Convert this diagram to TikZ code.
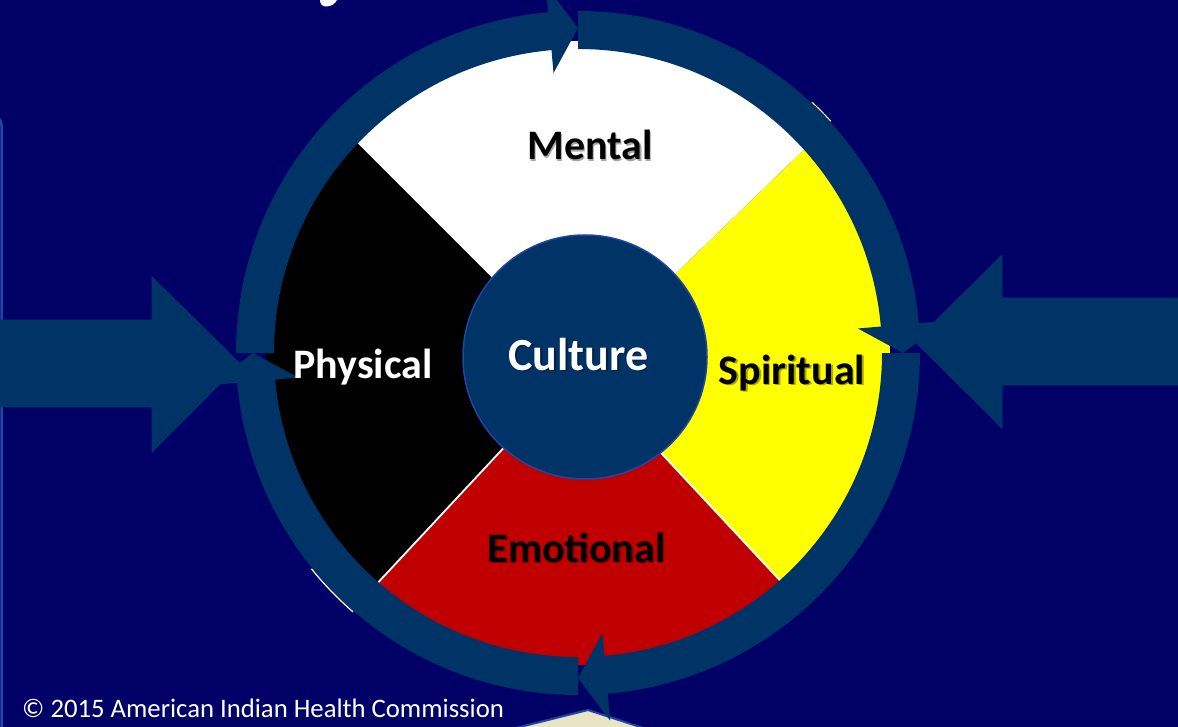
\documentclass[tikz,border=0pt]{standalone}
\usepackage{fontspec}
\setmainfont{Carlito}
\definecolor{navy}{RGB}{0,0,102}
\definecolor{ringblue}{RGB}{0,51,102}
\definecolor{edgeblue}{RGB}{30,70,165}
\definecolor{wheelred}{RGB}{192,0,0}
\definecolor{wheelyellow}{RGB}{255,255,0}
\definecolor{sand}{RGB}{233,229,196}

\begin{document}
\begin{tikzpicture}[x=1pt,y=1pt,
  lbl/.style={anchor=base, inner sep=0pt, font=\fontsize{42}{46}\selectfont\bfseries},
  bigtxt/.style={anchor=base, inner sep=0pt, font=\fontsize{46}{50}\selectfont\bfseries},
  shade/.style={text=black, opacity=0.35},
  bigarrow/.style={fill=ringblue, draw=ringblue!85!edgeblue, line width=0.8pt},
  divider/.style={white, line width=1.8pt}]
\useasboundingbox (0,0) rectangle (1178,-727);
\fill[navy] (0,0) rectangle (1178,-727);

% edge of the neighbouring panel on the left
\draw[edgeblue, line width=2.5pt, rounded corners=10pt] (-40,-115) -- (1.5,-115) -- (1.5,-745);

% small white hook hanging down from the top edge
\fill[white] (320,0) -- (337,0) .. controls (335,-4) and (331,-6.5) .. (326,-6.5)
  .. controls (322.5,-6.5) and (320,-4) .. (320,0) -- cycle;

% sand shape below the wheel
\fill[sand, draw=edgeblue, line width=2pt] (468,-740) -- (588,-710) -- (680,-740) -- cycle;

% the four quadrants of the wheel
\begin{scope}
  \clip (578,-353) circle[radius=312];
  \begin{scope}[shift={(580,-366)}]
    \fill[white] (0,0) -- (135:700) -- (44:700) -- cycle;
    \fill[wheelyellow] (0,0) -- (44:700) -- (-47:700) -- cycle;
    \fill[wheelred] (0,0) -- (-47:700) -- (-133:700) -- cycle;
    \fill[black] (0,0) -- (-133:700) -- (135:700) -- cycle;
    \draw[divider] (0,0) -- (-47:700);
    \draw[divider] (0,0) -- (-133:700);
  \end{scope}
\end{scope}

% centre circle
\node[circle, fill=ringblue, draw=edgeblue, line width=1.5pt, minimum size=244pt, inner sep=0pt] (culture) at (585,-357) {};

% incoming arrows
\fill[bigarrow] (-5,-320) -- (152,-320) -- (152,-277) -- (240,-363.5) -- (152,-452) -- (152,-407) -- (-5,-407) -- cycle;
\fill[bigarrow] (1183,-298) -- (1002,-298) -- (1002,-255) -- (915,-341.5) -- (1002,-428) -- (1002,-385) -- (1183,-385) -- cycle;

% clockwise ring of four arrows
\foreach \s [evaluate=\s as \b using \s-85, evaluate=\s as \t using \s-90] in {180,90,0,-90} {
  \fill[ringblue, shift={(578,-353)}]
    (\s:342) arc[start angle=\s, end angle=\b, radius=342]
    -- (\b:369) -- (\t:325) -- (\b:281) -- (\b:304)
    arc[start angle=\b, end angle=\s, radius=304] -- cycle;
}

% thin light rims peeking out beside the ring
\begin{scope}[shift={(578,-353)}]
  \draw[white, line width=1pt] (42.5:343) arc[start angle=42.5, end angle=47, radius=343];
  \draw[white, line width=1.2pt] (219:343) arc[start angle=219, end angle=229, radius=343];
\end{scope}

% labels with a soft drop shadow
\node[lbl, shade] (mentalshadow) at (591.5,-161.5) {Mental};
\node[lbl, text=black] (mental) at (590,-160) {Mental};
\node[lbl, shade] (physicalshadow) at (364.5,-379.5) {Physical};
\node[lbl, text=white] (physical) at (363,-378) {Physical};
\node[lbl, shade] (spiritualshadow) at (793.5,-385.5) {Spiritual};
\node[lbl, text=black] (spiritual) at (792,-384) {Spiritual};
\node[lbl, shade] (emotionalshadow) at (578,-563.5) {Emotional};
\node[lbl, text=black] (emotional) at (576.5,-562) {Emotional};
\node[bigtxt, shade] (cultureshadow) at (580,-371.5) {Culture};
\node[bigtxt, text=white] (culturetext) at (578.5,-370) {Culture};

% credit line
\node[anchor=base west, inner sep=0pt, text=white, font=\fontsize{26.7}{30}\selectfont] (credit) at (22,-717) {© 2015 American Indian Health Commission};
\end{tikzpicture}
\end{document}
